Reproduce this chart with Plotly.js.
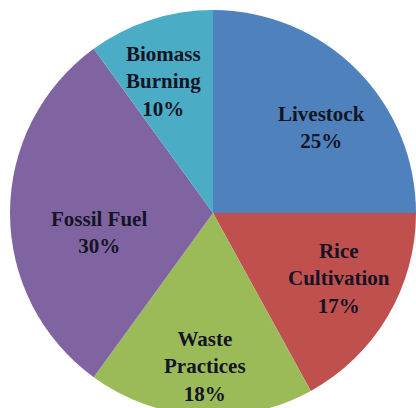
<!DOCTYPE html>
<html>
<head>
<meta charset="utf-8">
<script src="https://cdn.plot.ly/plotly-3.0.1.min.js"></script>
<style>
html,body{margin:0;padding:0;overflow:hidden;background:#fff;width:416px;height:408px;}
#chart{width:416px;height:426px;}
</style>
</head>
<body>
<div id="chart"></div>
<script>
const categories = ["Livestock", "Rice<br>Cultivation", "Waste<br>Practices", "Fossil Fuel", "Biomass<br>Burning"];
const shares = [25, 17, 18, 30, 10];
const colors = ["#4F81BD", "#C0504D", "#9BBB59", "#8064A2", "#4BACC6"];

// label placement (fraction of radius, angular offset in degrees from slice middle)
const labelRadius = [0.68, 0.70, 0.755, 0.57, 0.69];
const labelAngleOffset = [6.5, -3, -0.6, -9.5, -2.7];

const W = 416, H = 426;
const cx = 213, cy = 213, R = 203;

const trace = {
  type: "pie",
  labels: categories,
  values: shares,
  sort: false,
  direction: "clockwise",
  rotation: 0,
  marker: {colors: colors, line: {width: 0}},
  textinfo: "none",
  hoverinfo: "none",
  showlegend: false,
  domain: {x: [(cx - R) / W, Math.min(1, (cx + R) / W)], y: [(H - cy - R) / H, (H - cy + R) / H]}
};

const total = shares.reduce((a, b) => a + b, 0);
const annotations = [];
let cum = 0;
shares.forEach((v, i) => {
  const mid = (cum + v / 2) / total * 360 + labelAngleOffset[i];
  cum += v;
  const a = mid * Math.PI / 180;
  const r = R * labelRadius[i];
  const px = cx + r * Math.sin(a);
  const py = cy - r * Math.cos(a);
  annotations.push({
    xref: "paper", yref: "paper",
    x: px / W, y: (H - py) / H,
    xanchor: "center", yanchor: "middle",
    showarrow: false,
    align: "center",
    text: categories[i] + "<br>" + Math.round(v / total * 100) + "%",
    font: {family: "Liberation Serif", size: 21, color: "#141425", weight: "bold"}
  });
});

Plotly.newPlot("chart", [trace], {
  width: W, height: H,
  margin: {l: 0, r: 0, t: 0, b: 0},
  paper_bgcolor: "#ffffff",
  showlegend: false,
  annotations: annotations
}, {staticPlot: true});
</script>
</body>
</html>
